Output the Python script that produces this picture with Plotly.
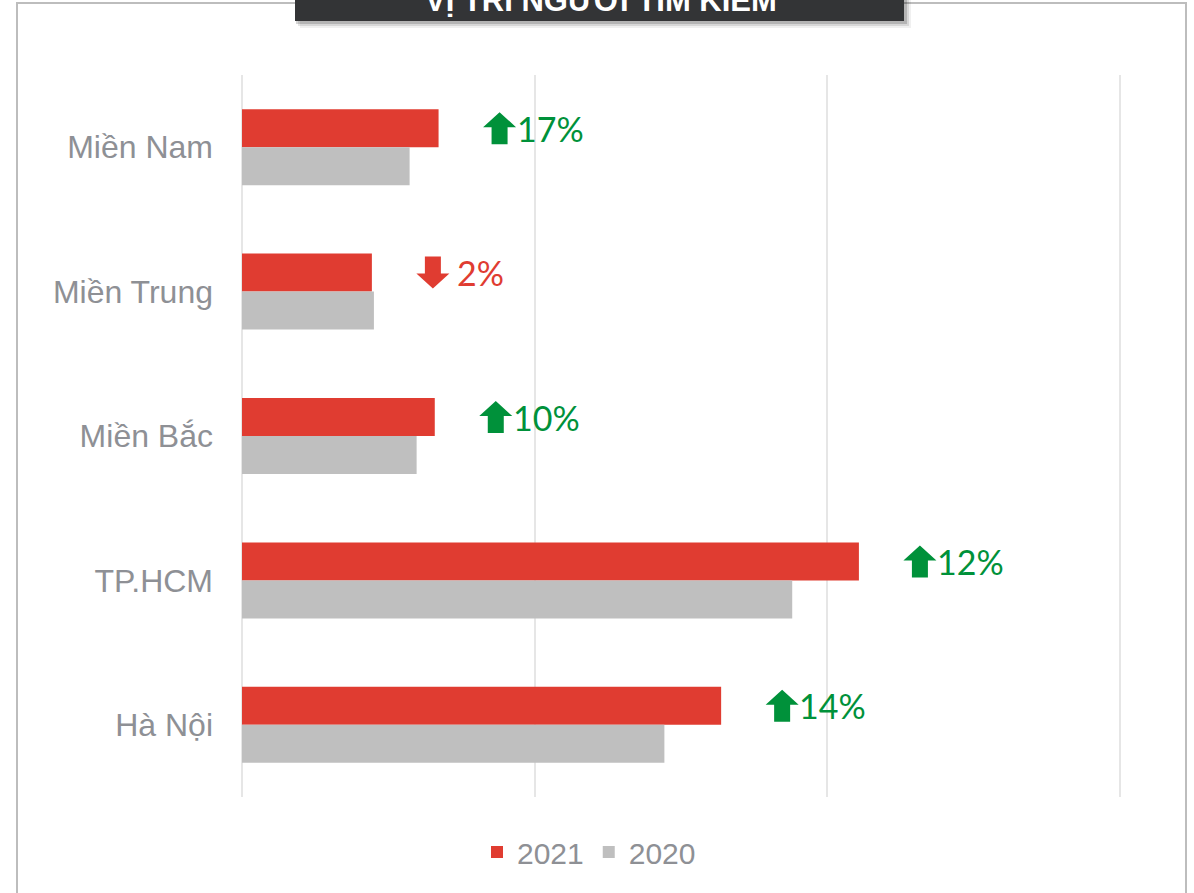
import plotly.graph_objects as go

# ---- data ----
categories = ["Miền Nam", "Miền Trung", "Miền Bắc", "TP.HCM", "Hà Nội"]
values_2021 = [6.72, 4.44, 6.59, 21.09, 16.38]
values_2020 = [5.73, 4.51, 5.97, 18.81, 14.44]
change_labels = ["17%", "2%", "10%", "12%", "14%"]
change_up = [True, False, True, True, True]
series_names = ["2021", "2020"]
title_text = "VỊ TRÍ NGƯỜI TÌM KIẾM"
x_ticks = [0, 10, 20, 30]

# ---- style ----
RED = "#E03C31"
GREY = "#BFBFBF"
GREEN = "#00913A"
LABEL = "#8E9095"
W, H = 1194, 893
ML, MR, MT, MB = 242, 1194 - 1121, 75, 893 - 797
PW, PH = W - ML - MR, H - MT - MB
BARGAP = 0.474


def px_x(p):
    return (p - ML) / PW


def px_y(p):
    return (H - MB - p) / PH


ypos = list(range(len(categories)))

fig = go.Figure()
fig.add_trace(go.Bar(
    name=series_names[0], y=ypos, x=values_2021, orientation="h",
    marker=dict(color=RED, line=dict(width=0)), hoverinfo="skip"))
fig.add_trace(go.Bar(
    name=series_names[1], y=ypos, x=values_2020, orientation="h",
    marker=dict(color=GREY, line=dict(width=0)), hoverinfo="skip"))

shapes = []
annotations = []

# offset of the 2021 bar centre from category centre
bar_off = -(1 - BARGAP) / 4
ARROW_DX = 61
for i, (v, lab, up) in enumerate(zip(values_2021, change_labels, change_up)):
    cx = ARROW_DX
    if up:
        path = (f"M {cx-16.5},1 L {cx},16 L {cx+16.5},1 L {cx+8},1 "
                f"L {cx+8},-16 L {cx-8},-16 L {cx-8},1 Z")
        col = GREEN
        tshift = cx + 15
    else:
        path = (f"M {cx-16.5},-1 L {cx},-16 L {cx+16.5},-1 L {cx+8},-1 "
                f"L {cx+8},16 L {cx-8},16 L {cx-8},-1 Z")
        col = RED
        tshift = cx + 22
    shapes.append(dict(type="path", xref="x", yref="y", xsizemode="pixel",
                       ysizemode="pixel", xanchor=v, yanchor=i + bar_off,
                       path=path, fillcolor=col, line=dict(width=0),
                       layer="above"))
    annotations.append(dict(x=v, y=i + bar_off, xref="x", yref="y",
                            text=lab, showarrow=False, xanchor="left",
                            yanchor="middle", xshift=tshift, yshift=0,
                            font=dict(family="Lato", size=34, color=col)))

# outer frame
shapes.append(dict(type="rect", xref="paper", yref="paper",
                   x0=px_x(17), x1=px_x(1186), y0=px_y(910), y1=px_y(3),
                   line=dict(color="#BDBDBD", width=2), fillcolor="rgba(0,0,0,0)",
                   layer="above"))
# title box shadow + box
for k, a in [(7, 0.06), (5, 0.10), (3, 0.16)]:
    shapes.append(dict(type="rect", xref="paper", yref="paper",
                       x0=px_x(295 + k - 2), x1=px_x(904 + k), y0=px_y(21 + k), y1=px_y(-20),
                       line=dict(width=0), fillcolor=f"rgba(0,0,0,{a})", layer="above"))
shapes.append(dict(type="rect", xref="paper", yref="paper",
                   x0=px_x(295), x1=px_x(904), y0=px_y(21), y1=px_y(-20),
                   line=dict(width=0), fillcolor="#333436", layer="above"))
annotations.append(dict(x=px_x(601), y=px_y(20), xref="paper", yref="paper",
                        text=f"<b>{title_text}</b>", showarrow=False,
                        xanchor="center", yanchor="bottom",
                        font=dict(family="Liberation Sans", size=31, color="white")))

fig.update_layout(
    width=W, height=H,
    margin=dict(l=ML, r=MR, t=MT, b=MB, autoexpand=False),
    paper_bgcolor="white", plot_bgcolor="white",
    barmode="group", bargap=BARGAP, bargroupgap=0,
    shapes=shapes, annotations=annotations,
    showlegend=True,
    legend=dict(orientation="h", x=px_x(589), y=px_y(852), xanchor="center",
                yanchor="middle", font=dict(family="Liberation Sans", size=30, color=LABEL),
                traceorder="normal", bgcolor="rgba(0,0,0,0)"),
    xaxis=dict(range=[0, 30.05], tickvals=x_ticks, showticklabels=False,
               showgrid=True, gridcolor="#E6E6E6", gridwidth=2,
               zeroline=True, zerolinecolor="#E6E6E6", zerolinewidth=2,
               showline=False, fixedrange=True),
    yaxis=dict(range=[len(categories) - 0.5, -0.5], tickvals=ypos, ticktext=categories,
               showgrid=False, zeroline=False, showline=False,
               ticks="", ticklabelstandoff=28,
               tickfont=dict(family="Liberation Sans", size=32, color=LABEL),
               fixedrange=True),
)

fig.write_html(
    "out.html",
    config={"displayModeBar": False},
    post_script="document.body.style.margin='0';document.body.style.padding='0';document.body.style.overflow='hidden';",
)
